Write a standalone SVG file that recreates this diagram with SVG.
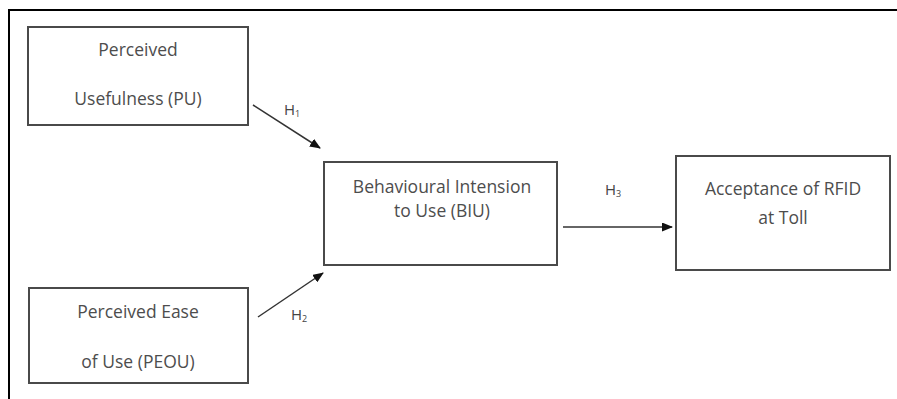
<svg xmlns="http://www.w3.org/2000/svg" width="897" height="399" viewBox="0 0 897 399">
<style>
.box{fill:#fff;stroke:#4a4a4a;stroke-width:2}
.t{font-family:"Open Sans","Noto Sans",sans-serif;font-size:17.5px;fill:#4d4d4d;text-anchor:middle}
.h{font-family:"Open Sans","Noto Sans",sans-serif;font-size:15px;fill:#444}
.c{stroke:#333;stroke-width:1.5;fill:none;marker-end:url(#ah)}
</style>
<defs>
<marker id="ah" markerWidth="11" markerHeight="9" refX="10" refY="4.5" orient="auto" markerUnits="userSpaceOnUse">
<path d="M0,0 L11,4.5 L0,9 Z" fill="#111"/>
</marker>
</defs>
<rect width="897" height="399" fill="#fff"/>
<path d="M9,399 V10 H897" fill="none" stroke="#000" stroke-width="2"/>
<g id="pu">
<rect class="box" x="28" y="27" width="220" height="98"/>
<text class="t" x="138" y="56">Perceived</text>
<text class="t" x="138" y="105">Usefulness (PU)</text>
</g>
<g id="peou">
<rect class="box" x="29" y="288" width="219" height="95"/>
<text class="t" x="138" y="318">Perceived Ease</text>
<text class="t" x="138" y="368">of Use (PEOU)</text>
</g>
<g id="biu">
<rect class="box" x="324" y="162" width="233" height="103"/>
<text class="t" x="442" y="193">Behavioural Intension</text>
<text class="t" x="442" y="217">to Use (BIU)</text>
</g>
<g id="acc">
<rect class="box" x="676" y="156" width="214" height="114"/>
<text class="t" x="783" y="195">Acceptance of RFID</text>
<text class="t" x="783" y="224">at Toll</text>
</g>
<g id="connectors">
<line class="c" x1="253" y1="105" x2="320" y2="148"/>
<line class="c" x1="258" y1="317" x2="323" y2="273"/>
<line class="c" x1="563" y1="227" x2="672" y2="227"/>
<text class="h" x="284" y="115">H<tspan font-size="9" dy="2">1</tspan></text>
<text class="h" x="291" y="320">H<tspan font-size="9" dy="2">2</tspan></text>
<text class="h" x="605" y="195">H<tspan font-size="9" dy="2">3</tspan></text>
</g>
</svg>
